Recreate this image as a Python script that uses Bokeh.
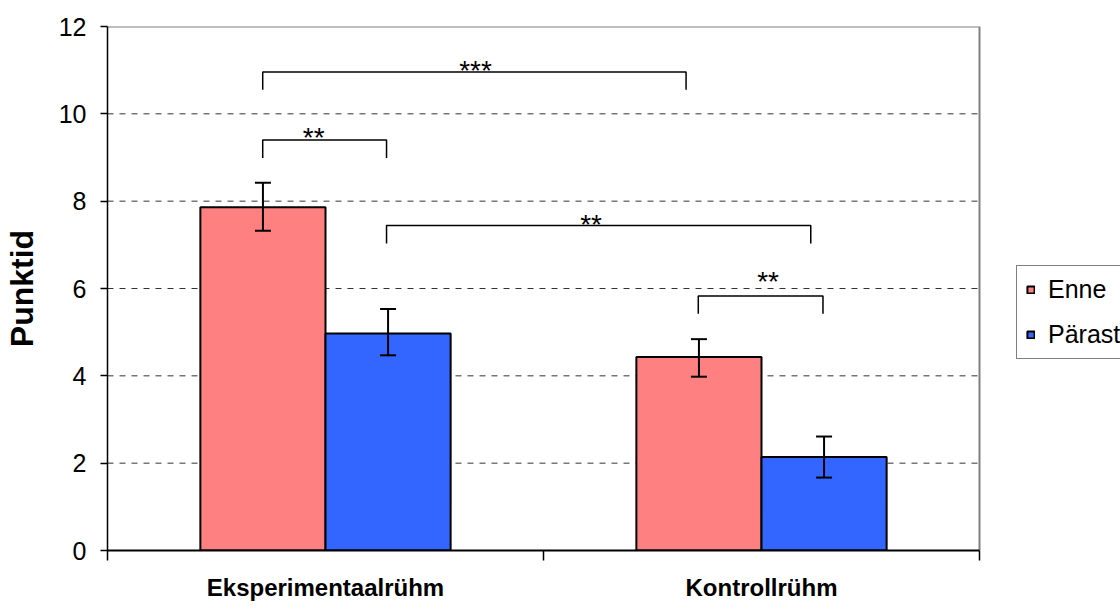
from bokeh.plotting import figure
from bokeh.models import (ColumnDataSource, Range1d, FixedTicker, Whisker, TeeHead,
                          Legend, LegendItem)
from bokeh.core.properties import value
from bokeh.embed import file_html
from bokeh.resources import INLINE

# ---------------- data ----------------
groups = ["Eksperimentaalrühm", "Kontrollrühm"]
series = ["Enne", "Pärast"]
enne = [7.86, 4.43]
enne_lower = [7.32, 3.98]
enne_upper = [8.42, 4.84]
parast = [4.97, 2.14]
parast_lower = [4.47, 1.67]
parast_upper = [5.53, 2.61]
y_ticks = [0, 2, 4, 6, 8, 10, 12]
grid_ticks = [2, 4, 6, 8, 10]

# significance brackets (x in group units, y in Punktid)
br_x0 = [0.356, 0.356, 0.640, 1.355]
br_x1 = [0.640, 1.327, 1.613, 1.641]
br_y = [9.40, 10.96, 7.44, 5.83]
br_label = ["**", "***", "**", "**"]
br_label_x = [0.473, 0.844, 1.109, 1.515]
br_label_y = [9.54, 11.08, 7.56, 6.25]

# ---------------- styles ----------------
FONT = "Liberation Sans"
BAR_W = 0.287
DROP = 0.41
C_ENNE = "#FF8080"
C_PARAST = "#3366FF"

n = len(groups)
y_max = y_ticks[-1]
# the frame runs to the right edge so that the legend (outside the plot box) is drawn;
# the visible plot box spans x = 0..n
x_end = n * (1120 - 107) / (979 - 107)

p = figure(width=1120, height=612, output_backend="svg", toolbar_location=None,
           title=None, x_range=Range1d(0, x_end), y_range=Range1d(0, y_max),
           min_border_left=107, min_border_right=0, min_border_top=26,
           min_border_bottom=62)
p.background_fill_color = "white"
p.border_fill_color = "white"
p.outline_line_color = None

# dashed grid lines inside the plot box
p.segment(x0=[0] * len(grid_ticks), x1=[n] * len(grid_ticks), y0=grid_ticks,
          y1=grid_ticks, line_color="#333333", line_dash="6 6", line_width=1)
# grey top / right border of the plot box
p.multi_line(xs=[[0, n, n]], ys=[[y_max, y_max, 0]], line_color="#808080",
             line_width=2)

centers = [i + 0.5 for i in range(n)]
x_enne = [c - BAR_W / 2 for c in centers]
x_par = [c + BAR_W / 2 for c in centers]

src_e = ColumnDataSource(dict(x=x_enne, top=enne, lower=enne_lower, upper=enne_upper))
src_p = ColumnDataSource(dict(x=x_par, top=parast, lower=parast_lower, upper=parast_upper))

r_e = p.vbar(x="x", top="top", width=BAR_W, source=src_e, fill_color=C_ENNE,
             line_color="black", line_width=2)
r_p = p.vbar(x="x", top="top", width=BAR_W, source=src_p, fill_color=C_PARAST,
             line_color="black", line_width=2)

for src in (src_e, src_p):
    w = Whisker(base="x", lower="lower", upper="upper", source=src,
                line_color="black", line_width=2, level="annotation",
                upper_head=TeeHead(size=16, line_width=2, line_color="black"),
                lower_head=TeeHead(size=16, line_width=2, line_color="black"))
    p.add_layout(w)

# brackets
xs = [[a, a, b, b] for a, b in zip(br_x0, br_x1)]
ys = [[y - DROP, y, y, y - DROP] for y in br_y]
p.multi_line(xs=xs, ys=ys, line_color="black", line_width=1.5)
p.text(x=br_label_x, y=br_label_y, text=br_label, text_font=value(FONT),
       text_font_size="28px", text_align="center", text_baseline="alphabetic",
       y_offset=4, text_color="black")

# grid (drawn manually above)
p.xgrid.visible = False
p.ygrid.visible = False

# y axis
ya = p.yaxis[0]
ya.ticker = FixedTicker(ticks=y_ticks)
ya.major_tick_out = 7
ya.major_tick_in = 0
ya.minor_tick_out = 0
ya.axis_line_color = "black"
ya.axis_line_width = 1.5
ya.major_tick_line_width = 1.5
ya.major_label_text_font = FONT
ya.major_label_text_font_size = "25px"
ya.major_label_text_color = "black"
ya.major_label_standoff = 14
ya.axis_label = "Punktid"
ya.axis_label_text_font = FONT
ya.axis_label_text_font_size = "32px"
ya.axis_label_text_font_style = "bold"
ya.axis_label_text_color = "black"
ya.axis_label_standoff = 16

# x axis
xa = p.xaxis[0]
xa.bounds = (0, n)
xa.ticker = FixedTicker(ticks=centers, minor_ticks=list(range(n + 1)))
xa.major_label_overrides = {c: g for c, g in zip(centers, groups)}
xa.major_tick_out = 0
xa.major_tick_in = 0
xa.minor_tick_out = 10
xa.minor_tick_in = 0
xa.minor_tick_line_color = "black"
xa.minor_tick_line_width = 1.5
xa.axis_line_color = "black"
xa.axis_line_width = 2
xa.major_label_text_font = FONT
xa.major_label_text_font_size = "24px"
xa.major_label_text_font_style = "bold"
xa.major_label_text_color = "black"
xa.major_label_standoff = 13

# legend
legend = Legend(items=[LegendItem(label=series[0], renderers=[r_e]),
                       LegendItem(label=series[1], renderers=[r_p])],
                location=(909, 191))
legend.label_text_font = FONT
legend.label_text_font_size = "25px"
legend.label_text_color = "black"
legend.glyph_width = 9
legend.glyph_height = 9
legend.label_standoff = 13
legend.padding = 9
legend.spacing = 16
legend.label_height = 29
legend.margin = 0
legend.border_line_color = "black"
legend.border_line_width = 1
legend.background_fill_color = "white"
legend.background_fill_alpha = 1
p.add_layout(legend)

open("out.html", "w").write(file_html(p, INLINE))
